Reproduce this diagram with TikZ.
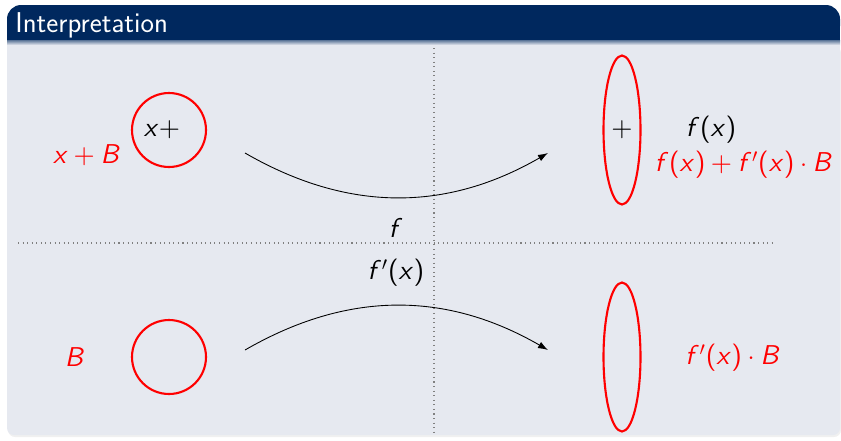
\documentclass[tikz,border=0pt]{standalone}
\usetikzlibrary{arrows.meta}
\usetikzlibrary{shapes.geometric}
\usetikzlibrary{positioning}

% sans-serif math, as on the slide
\DeclareFontFamily{OT1}{sfmath}{}
\DeclareFontShape{OT1}{sfmath}{m}{sl}{<-> cmssi10}{}
\DeclareFontShape{OT1}{sfmath}{m}{n}{<-> cmss10}{}
\DeclareSymbolFont{sfletters}{OT1}{sfmath}{m}{sl}
\DeclareSymbolFont{sfupright}{OT1}{sfmath}{m}{n}
\DeclareMathSymbol{x}{\mathalpha}{sfletters}{`x}
\DeclareMathSymbol{f}{\mathalpha}{sfletters}{`f}
\DeclareMathSymbol{B}{\mathalpha}{sfletters}{`B}
\DeclareMathSymbol{+}{\mathbin}{sfupright}{`+}
\DeclareMathSymbol{(}{\mathopen}{sfupright}{`(}
\DeclareMathSymbol{)}{\mathclose}{sfupright}{`)}

\definecolor{titlebg}{RGB}{0,40,94}
\definecolor{bodybg}{RGB}{230,233,240}

\begin{document}
\begin{tikzpicture}[
    x=0.02cm, y=-0.02cm,
    ball/.style={circle, draw=red, line width=1.2pt, minimum size=1.48cm, inner sep=0pt},
    blob/.style={ellipse, draw=red, line width=1.2pt, minimum width=0.74cm, minimum height=2.98cm, inner sep=0pt},
    redtext/.style={text=red},
    map/.style={-{Latex[length=2mm, width=1.4mm]}, line width=0.5pt},
    guide/.style={dotted, gray, line width=0.6pt},
    font=\fontsize{15.5}{18}\selectfont
]
\useasboundingbox (0,0) rectangle (841,440);

% --- Block frame ---
\fill[black!6, rounded corners=4] (8,46) rectangle (841,437);
\fill[bodybg, rounded corners=4] (7,44) rectangle (840,435);
\fill[bodybg] (7,44) rectangle (840,60);
\fill[titlebg, rounded corners=8] (7,5) rectangle (840,40);
\fill[titlebg] (7,25) rectangle (840,40);
\shade[top color=titlebg!65, bottom color=bodybg] (7,40) rectangle (840,45);
\node[anchor=base west, inner sep=0pt, text=white, font=\sffamily\fontsize{16.3}{19}\selectfont] (title) at (15,32) {Interpretation};

% --- Dotted guides ---
\coordinate (vtop) at (434,48);
\coordinate (vbot) at (434,436);
\coordinate (hleft) at (18,243);
\coordinate (hright) at (772,243);
\draw[guide] (vtop) -- (vbot);
\draw[guide] (hleft) -- (hright);

% --- Upper row: x+B mapped by f ---
\node[ball] (xball) at (169,130) {};
\node (xplus) at (162,130) {$x+$};
\node[redtext] (xB) at (87,155) {$x+B$};
\node[blob] (fblob) at (622,130) {$+$};
\node (fx) at (711,130) {$f(x)$};
\node[redtext] (fxB) at (744,165) {$f(x)+f'(x)\cdot B$};

% --- Lower row: B mapped by f'(x) ---
\node[ball] (Bball) at (169,357) {};
\node[redtext] (B) at (75,357) {$B$};
\node[blob] (Bblob) at (622,357) {};
\node[redtext] (dfB) at (733,358) {$f'(x)\cdot B$};

% --- Maps ---
\node (f) at (396,228) {$f$};
\node (df) at (396,273) {$f'(x)$};
\coordinate (upstart) at (245,153);
\coordinate (upend) at (548,153);
\coordinate (lowstart) at (245,350);
\coordinate (lowend) at (548,350);
\draw[map] (upstart) to[bend right=30] (upend);
\draw[map] (lowstart) to[bend left=30] (lowend);

\end{tikzpicture}
\end{document}
